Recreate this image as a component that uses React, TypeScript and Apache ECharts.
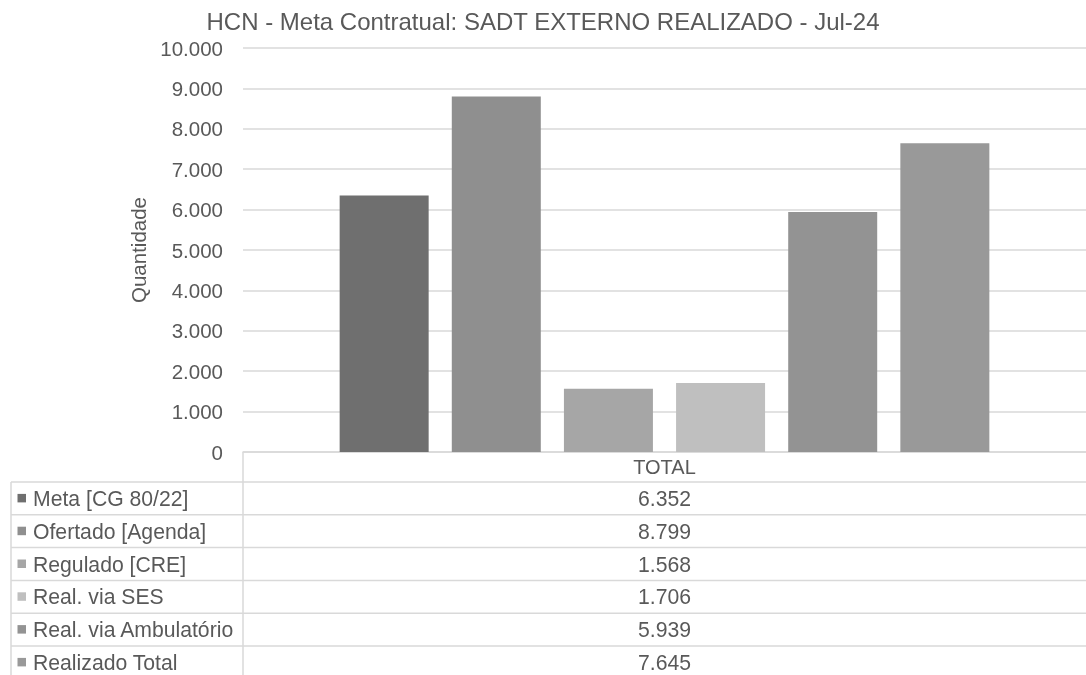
import React, { useEffect, useRef } from "react";
import * as echarts from "echarts";

const title = "HCN - Meta Contratual: SADT EXTERNO REALIZADO - Jul-24";
const categories = ["TOTAL"];
const seriesNames = [
  "Meta [CG 80/22]",
  "Ofertado [Agenda]",
  "Regulado [CRE]",
  "Real. via SES",
  "Real. via Ambulatório",
  "Realizado Total",
];
const seriesValues = [6352, 8799, 1568, 1706, 5939, 7645];
const seriesColors = ["#6f6f6f", "#8f8f8f", "#a6a6a6", "#bfbfbf", "#939393", "#999999"];
const yTicks = { min: 0, max: 10000, interval: 1000 };

const FONT = '"Liberation Sans", Arial, sans-serif';
const TXT = "#595959";
const LINE = "#d9d9d9";

function fmt(v: number): string {
  const s = String(Math.round(v));
  return s.replace(/\B(?=(\d{3})+(?!\d))/g, ".");
}

export default function App() {
  const ref = useRef<HTMLDivElement>(null);
  useEffect(() => {
    if (!ref.current) return;
    const chart = echarts.init(ref.current, undefined, { renderer: "svg" });
    const W = 1086;
    const H = 675;
    const plotLeft = 243;
    const axisY = 452;
    const headerBottom = 482;
    const rowH = 32.8;
    const tableLeft = 11;
    const valueX = (plotLeft + W) / 2;

    const graphics: any[] = [];
    graphics.push({
      type: "text",
      x: valueX,
      y: (axisY + headerBottom) / 2,
      style: { text: categories[0], fill: TXT, font: `20px ${FONT}`, align: "center", verticalAlign: "middle" },
    });
    graphics.push({ type: "line", shape: { x1: plotLeft, y1: axisY, x2: plotLeft, y2: H }, style: { stroke: LINE, lineWidth: 1.5 } });
    graphics.push({ type: "line", shape: { x1: tableLeft, y1: headerBottom, x2: tableLeft, y2: H }, style: { stroke: LINE, lineWidth: 1.5 } });
    seriesNames.forEach((name, i) => {
      const top = headerBottom + rowH * i;
      const cy = top + rowH / 2;
      graphics.push({ type: "line", shape: { x1: tableLeft, y1: top, x2: W, y2: top }, style: { stroke: LINE, lineWidth: 1.5 } });
      graphics.push({ type: "rect", shape: { x: 17.5, y: cy - 4.5, width: 8.5, height: 8.5 }, style: { fill: seriesColors[i] } });
      graphics.push({
        type: "text",
        x: 33,
        y: cy,
        style: { text: name, fill: TXT, font: `21.2px ${FONT}`, align: "left", verticalAlign: "middle" },
      });
      graphics.push({
        type: "text",
        x: valueX,
        y: cy,
        style: { text: fmt(seriesValues[i]), fill: TXT, font: `21.2px ${FONT}`, align: "center", verticalAlign: "middle" },
      });
    });

    chart.setOption({
      animation: false,
      title: {
        text: title,
        left: "center",
        top: 4,
        textStyle: { fontFamily: FONT, fontSize: 24, fontWeight: "normal", color: TXT },
      },
      grid: { left: plotLeft, right: 0, top: 48, bottom: H - axisY, containLabel: false },
      xAxis: {
        type: "category",
        data: categories,
        axisLine: { show: true, lineStyle: { color: LINE, width: 1.5 } },
        axisTick: { show: false },
        axisLabel: { show: false },
      },
      yAxis: {
        type: "value",
        min: yTicks.min,
        max: yTicks.max,
        interval: yTicks.interval,
        name: "Quantidade",
        nameLocation: "middle",
        nameRotate: 90,
        nameGap: 93,
        nameTextStyle: { fontFamily: FONT, fontSize: 20.5, color: TXT },
        axisLine: { show: false },
        axisTick: { show: false },
        axisLabel: { formatter: (v: number) => fmt(v), fontFamily: FONT, fontSize: 20.5, color: TXT, margin: 20 },
        splitLine: { lineStyle: { color: LINE, width: 1.5 } },
      },
      series: seriesNames.map((name, i) => ({
        type: "bar",
        name,
        data: [seriesValues[i]],
        barWidth: 89,
        barGap: "26%",
        itemStyle: { color: seriesColors[i] },
      })),
      graphic: graphics,
    });
    return () => chart.dispose();
  }, []);
  return <div ref={ref} style={{ position: "fixed", left: 0, top: 0, width: 1086, height: 675 }} />;
}
